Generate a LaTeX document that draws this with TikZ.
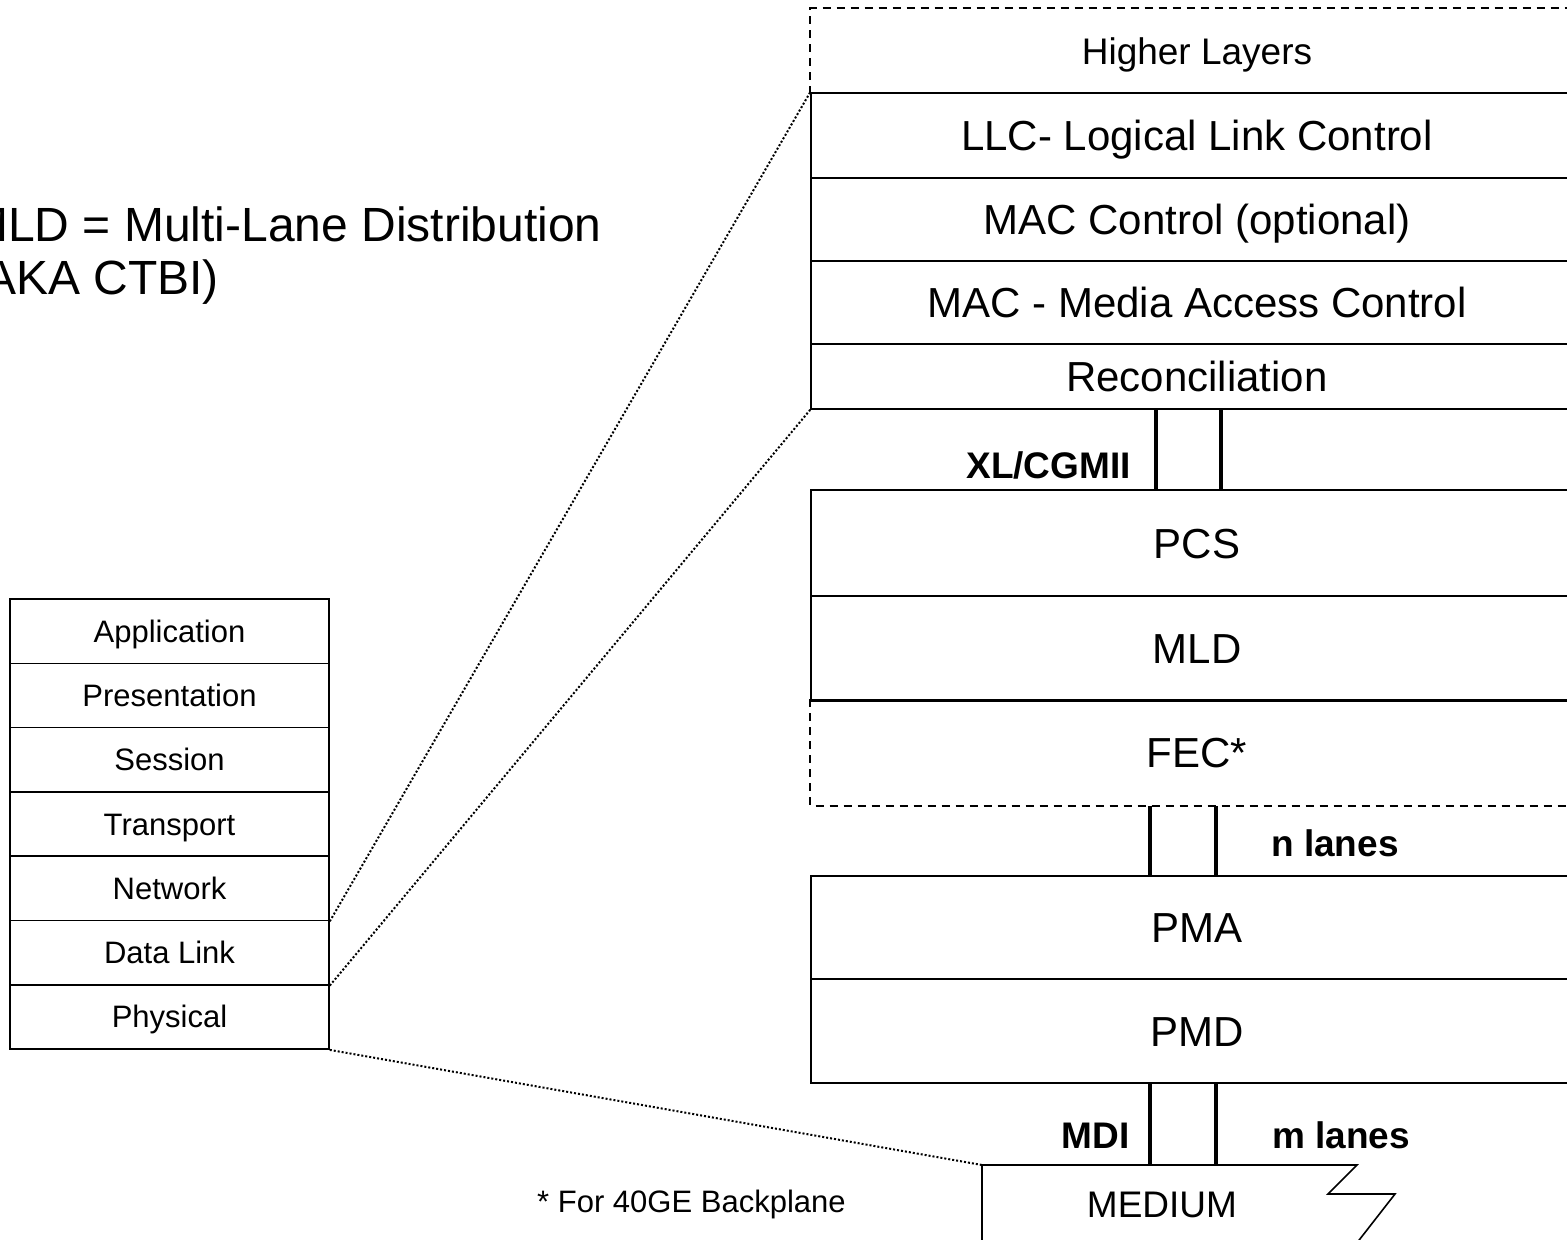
\documentclass[tikz,border=0pt]{standalone}
\usepackage{fontspec}
\setmainfont{Liberation Sans}
\begin{document}
\begin{tikzpicture}[x=1pt,y=-1pt,
  edge/.style={line width=1.6pt},
  box/.style={draw, edge, rectangle, inner sep=0pt, minimum width=772pt,
    text height=30pt, text depth=0pt, font=\fontsize{42}{48}\selectfont},
  hlbox/.style={box, draw=none, text height=26.5pt, font=\fontsize{37}{42}\selectfont},
  osi/.style={draw, edge, rectangle, inner sep=0pt, minimum width=319pt, minimum height=64.3pt,
    text height=22pt, text depth=0pt, font=\fontsize{31}{36}\selectfont},
  lbl/.style={inner sep=0pt, text height=26.5pt, text depth=0pt, font=\fontsize{37}{42}\selectfont\bfseries},
  note/.style={inner sep=0pt, anchor=base west, font=\fontsize{48}{52}\selectfont},
  small/.style={inner sep=0pt, text height=22pt, text depth=0pt, font=\fontsize{31}{36}\selectfont},
  medlbl/.style={inner sep=0pt, text height=26.5pt, text depth=0pt, font=\fontsize{37}{42}\selectfont},
  lane/.style={line width=4.5pt},
  dsh/.style={edge, dash pattern=on 8pt off 6pt},
  dots/.style={line width=2pt, dash pattern=on 2pt off 2pt}]
\clip (0,0) rectangle (1567,1240);
\fill[white] (0,0) rectangle (1567,1240);

% note
\node[note] (note1) at (-32,241) {MLD = Multi-Lane Distribution};
\node[note] (note2) at (-32,294) {(AKA CTBI)};

% OSI stack
\node[osi] (app) at (169.5,631.15) {Application};
\node[osi] (pre) at (169.5,695.45) {Presentation};
\node[osi] (ses) at (169.5,759.75) {Session};
\node[osi] (tra) at (169.5,824.05) {Transport};
\node[osi] (net) at (169.5,888.35) {Network};
\node[osi] (dl)  at (169.5,952.65) {Data Link};
\node[osi] (phy) at (169.5,1016.95) {Physical};

% right stack
\node[hlbox, minimum height=84pt] (hl) at (1197,51) {Higher Layers};
\draw[dsh] (hl.south west) -- (hl.north west) -- (hl.north east);
\node[box, minimum height=85pt] (llc) at (1197,135.5) {LLC- Logical Link Control};
\node[box, minimum height=83pt] (macc) at (1197,219.5) {MAC Control (optional)};
\node[box, minimum height=83pt] (mac) at (1197,302.5) {MAC - Media Access Control};
\node[box, minimum height=65pt] (rec) at (1197,376.5) {Reconciliation};

\node[box, minimum height=106pt] (pcs) at (1197,543) {PCS};
\node[box, minimum height=104pt] (mld) at (1197,648) {MLD};
\node[box, draw=none, minimum height=105pt] (fec) at (1197,752.5) {FEC*};
\draw[dsh] (fec.north west) -- (fec.south west) -- (fec.south east);
\draw[edge] (mld.south west) -- (mld.south east);

\node[box, minimum height=103pt] (pma) at (1197,927.5) {PMA};
\node[box, minimum height=104pt] (pmd) at (1197,1031) {PMD};

% lanes
\coordinate (xa) at (1156,0);
\coordinate (xb) at (1221,0);
\coordinate (na) at (1150,0);
\coordinate (nb) at (1216,0);
\draw[lane] (rec.south -| xa) -- (pcs.north -| xa);
\draw[lane] (rec.south -| xb) -- (pcs.north -| xb);
\draw[lane] (fec.south -| na) -- (pma.north -| na);
\draw[lane] (fec.south -| nb) -- (pma.north -| nb);

% medium
\coordinate (medtl) at (982,1165);
\draw[lane] (pmd.south -| na) -- (medtl -| na);
\draw[lane] (pmd.south -| nb) -- (medtl -| nb);
\draw[edge] (982,1262) -- (medtl) -- (1357,1165) -- (1328,1194) -- (1395,1194) -- (1342,1262);
\node[medlbl] (med) at (1162,1204) {MEDIUM};

% labels
\node[lbl, anchor=east] (xl) at (1131,465) {XL/CGMII};
\node[lbl, anchor=west] (nl) at (1271,843) {n lanes};
\node[lbl, anchor=east] (mdi) at (1130,1135) {MDI};
\node[lbl, anchor=west] (ml) at (1272,1135) {m lanes};
\node[small, anchor=west] (fn) at (537,1201) {* For 40GE Backplane};

% zoom connectors
\draw[dots] (net.south east) -- (llc.north west);
\draw[dots] (dl.south east) -- (rec.south west);
\draw[dots] (phy.south east) -- (medtl);
\end{tikzpicture}
\end{document}
